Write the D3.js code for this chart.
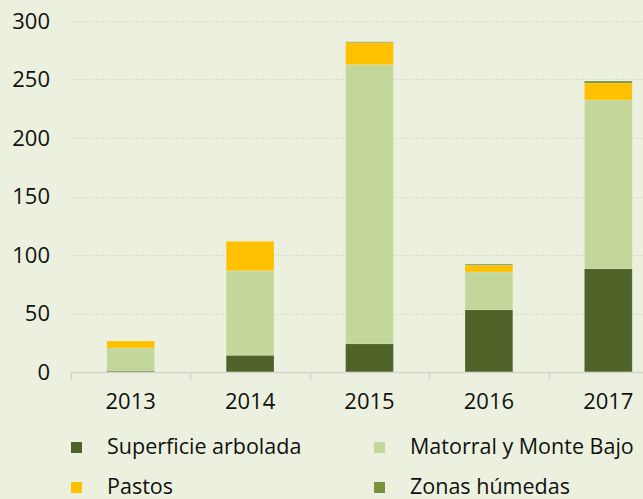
<!DOCTYPE html>
<html>
<head>
<meta charset="utf-8">
<script src="https://cdn.jsdelivr.net/npm/d3@7"></script>
<style>
  html, body { margin: 0; padding: 0; background: #ebf1de; }
  svg { display: block; }
  text { font-family: "Open Sans", sans-serif; fill: #111; }
</style>
</head>
<body>
<svg id="chart" width="643" height="499"></svg>
<script>
const years = ["2013", "2014", "2015", "2016", "2017"];
const arbolada = [0.8, 14.3, 24.2, 53.2, 88.3];
const matorral = [19.7, 72.3, 238.5, 32.3, 144.2];
const pastos = [6.0, 25.1, 18.8, 5.7, 14.5];
const zonas = [0, 0, 0.7, 1.0, 1.7];
const seriesNames = ["Superficie arbolada", "Matorral y Monte Bajo", "Pastos", "Zonas húmedas"];
const seriesColors = ["#4f6228", "#c4d79b", "#ffc000", "#77933c"];
const yTicks = [0, 50, 100, 150, 200, 250, 300];

const svg = d3.select("#chart");
const W = 643, H = 499;
svg.append("rect").attr("width", W).attr("height", H).attr("fill", "#ebf1de");

const x = d3.scaleBand().domain(years).range([71, 668]).paddingInner(0).paddingOuter(0);
const y = d3.scaleLinear().domain([0, 300]).range([372, 21]);

const table = years.map((yr, i) => ({
  year: yr,
  s0: arbolada[i], s1: matorral[i], s2: pastos[i], s3: zonas[i]
}));
const stack = d3.stack().keys(["s0", "s1", "s2", "s3"]);
const stacked = stack(table);

// gridlines
svg.append("g").selectAll("line").data(yTicks.filter(d => d > 0)).join("line")
  .attr("x1", 71).attr("x2", W)
  .attr("y1", d => Math.round(y(d)) + 0.5).attr("y2", d => Math.round(y(d)) + 0.5)
  .attr("stroke", "#d9dccf").attr("stroke-width", 1).attr("stroke-dasharray", "3,2");

// y labels
svg.append("g").selectAll("text").data(yTicks).join("text")
  .attr("x", 50).attr("y", d => y(d)).attr("dy", "0.36em")
  .attr("text-anchor", "end").attr("font-size", 22)
  .text(d => d);

// bars
const barW = x.bandwidth() * 0.4;
svg.append("g").selectAll("g").data(stacked).join("g")
  .attr("fill", (d, i) => seriesColors[i])
  .selectAll("rect").data(d => d).join("rect")
  .attr("x", d => x(d.data.year) + (x.bandwidth() - barW) / 2)
  .attr("width", barW)
  .attr("y", d => y(d[1]))
  .attr("height", d => Math.max(0, y(d[0]) - y(d[1])))
  .attr("stroke", "rgba(255,255,255,0.15)").attr("stroke-width", 1);

// baseline axis
const axisG = svg.append("g");
axisG.append("line").attr("x1", 71).attr("x2", W).attr("y1", 372.5).attr("y2", 372.5)
  .attr("stroke", "#d3d5ce").attr("stroke-width", 1.5);
axisG.selectAll("line.tick").data(years).join("line").attr("class", "tick")
  .attr("x1", d => Math.round(x(d)) + 0.5).attr("x2", d => Math.round(x(d)) + 0.5)
  .attr("y1", 372).attr("y2", 380)
  .attr("stroke", "#d3d5ce").attr("stroke-width", 1.5);
axisG.selectAll("text").data(years).join("text")
  .attr("x", d => x(d) + x.bandwidth() / 2).attr("y", 409)
  .attr("text-anchor", "middle").attr("font-size", 22)
  .text(d => d);

// legend
const legPos = [[71, 446], [374, 446], [71, 486], [374, 486]];
const leg = svg.append("g").selectAll("g").data(seriesNames).join("g")
  .attr("transform", (d, i) => `translate(${legPos[i][0]},${legPos[i][1]})`);
leg.append("rect").attr("x", 0).attr("y", -4).attr("width", 11).attr("height", 11)
  .attr("fill", (d, i) => seriesColors[i]);
leg.append("text").attr("x", 36).attr("y", 0).attr("dy", "0.36em")
  .attr("font-size", 21.5).text(d => d);
</script>
</body>
</html>
